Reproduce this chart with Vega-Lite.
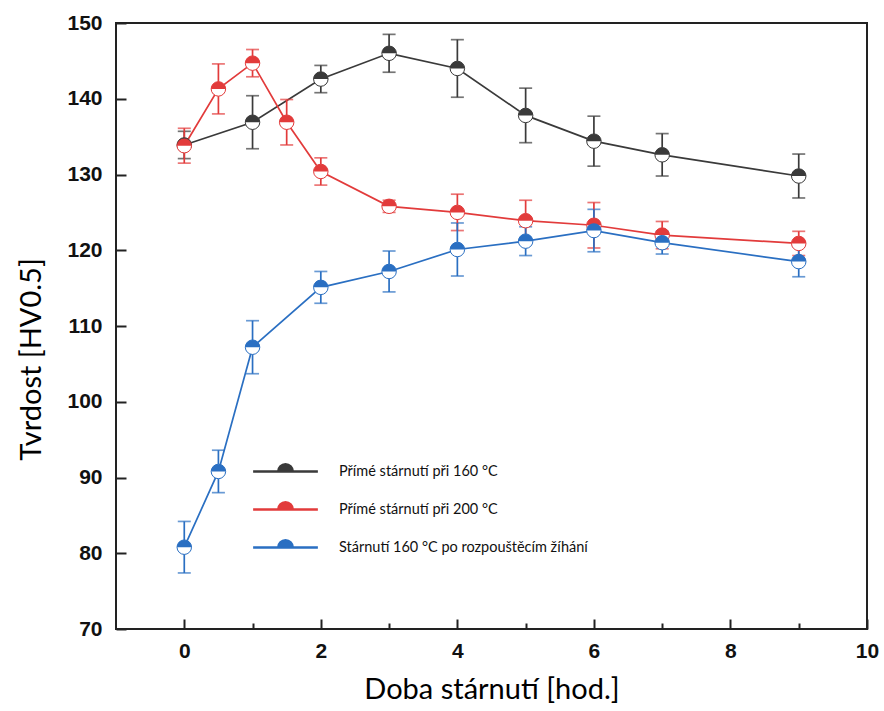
{
  "$schema": "https://vega.github.io/schema/vega-lite/v6.json",
  "width": 751,
  "height": 606,
  "autosize": {"type": "none"},
  "padding": {"left": 116, "top": 23, "right": 17, "bottom": 82},
  "background": "white",
  "config": {
    "view": {"stroke": "#222222", "strokeWidth": 2},
    "axis": {
      "domain": false,
      "grid": false,
      "labelFont": "Liberation Sans",
      "labelFontWeight": "bold",
      "labelFontSize": 21,
      "labelColor": "#111111",
      "tickColor": "#222222",
      "tickWidth": 2,
      "titleFont": "Lato",
      "titleFontSize": 29,
      "titleFontWeight": "normal",
      "titleColor": "#000000"
    }
  },
  "data": {
    "values": [
      {"s": "Přímé stárnutí při 160 °C", "t": 0, "h": 133.9, "e": 1.8},
      {"s": "Přímé stárnutí při 160 °C", "t": 1, "h": 136.9, "e": 3.5},
      {"s": "Přímé stárnutí při 160 °C", "t": 2, "h": 142.6, "e": 1.8},
      {"s": "Přímé stárnutí při 160 °C", "t": 3, "h": 146.0, "e": 2.5},
      {"s": "Přímé stárnutí při 160 °C", "t": 4, "h": 144.0, "e": 3.8},
      {"s": "Přímé stárnutí při 160 °C", "t": 5, "h": 137.8, "e": 3.6},
      {"s": "Přímé stárnutí při 160 °C", "t": 6, "h": 134.4, "e": 3.3},
      {"s": "Přímé stárnutí při 160 °C", "t": 7, "h": 132.6, "e": 2.8},
      {"s": "Přímé stárnutí při 160 °C", "t": 9, "h": 129.8, "e": 2.9},
      {"s": "Přímé stárnutí při 200 °C", "t": 0, "h": 133.8, "e": 2.3},
      {"s": "Přímé stárnutí při 200 °C", "t": 0.5, "h": 141.3, "e": 3.3},
      {"s": "Přímé stárnutí při 200 °C", "t": 1, "h": 144.7, "e": 1.8},
      {"s": "Přímé stárnutí při 200 °C", "t": 1.5, "h": 136.9, "e": 3.0},
      {"s": "Přímé stárnutí při 200 °C", "t": 2, "h": 130.4, "e": 1.8},
      {"s": "Přímé stárnutí při 200 °C", "t": 3, "h": 125.8, "e": 0.8},
      {"s": "Přímé stárnutí při 200 °C", "t": 4, "h": 125.0, "e": 2.4},
      {"s": "Přímé stárnutí při 200 °C", "t": 5, "h": 123.9, "e": 2.7},
      {"s": "Přímé stárnutí při 200 °C", "t": 6, "h": 123.3, "e": 3.0},
      {"s": "Přímé stárnutí při 200 °C", "t": 7, "h": 122.0, "e": 1.8},
      {"s": "Přímé stárnutí při 200 °C", "t": 9, "h": 120.9, "e": 1.6},
      {"s": "Stárnutí 160 °C po rozpouštěcím žíhání", "t": 0, "h": 80.8, "e": 3.4},
      {"s": "Stárnutí 160 °C po rozpouštěcím žíhání", "t": 0.5, "h": 90.8, "e": 2.8},
      {"s": "Stárnutí 160 °C po rozpouštěcím žíhání", "t": 1, "h": 107.2, "e": 3.5},
      {"s": "Stárnutí 160 °C po rozpouštěcím žíhání", "t": 2, "h": 115.1, "e": 2.1},
      {"s": "Stárnutí 160 °C po rozpouštěcím žíhání", "t": 3, "h": 117.2, "e": 2.7},
      {"s": "Stárnutí 160 °C po rozpouštěcím žíhání", "t": 4, "h": 120.1, "e": 3.5},
      {"s": "Stárnutí 160 °C po rozpouštěcím žíhání", "t": 5, "h": 121.2, "e": 1.9},
      {"s": "Stárnutí 160 °C po rozpouštěcím žíhání", "t": 6, "h": 122.6, "e": 2.8},
      {"s": "Stárnutí 160 °C po rozpouštěcím žíhání", "t": 7, "h": 121.0, "e": 1.5},
      {"s": "Stárnutí 160 °C po rozpouštěcím žíhání", "t": 9, "h": 118.5, "e": 2.0}
    ]
  },
  "encoding": {
    "x": {
      "field": "t",
      "type": "quantitative",
      "scale": {"domain": [-1, 10], "nice": false, "zero": false},
      "axis": {
        "values": [0, 1, 2, 3, 4, 5, 6, 7, 8, 9, 10],
        "labelExpr": "datum.value % 2 === 0 ? datum.label : ''",
        "tickSize": {"condition": {"test": "datum.value % 2 === 0", "value": -10}, "value": -6},
        "labelPadding": 21,
        "labelFlush": false,
        "title": "Doba stárnutí [hod.]",
        "titlePadding": 14
      }
    },
    "color": {
      "field": "s",
      "type": "nominal",
      "scale": {
        "domain": ["Přímé stárnutí při 160 °C", "Přímé stárnutí při 200 °C", "Stárnutí 160 °C po rozpouštěcím žíhání"],
        "range": ["#3a3a3a", "#e23b3b", "#2a6fc2"]
      },
      "legend": {
        "orient": "none",
        "legendX": 160,
        "legendY": 439,
        "title": null,
        "symbolType": "M -4 0 L -0.9 0 M 0.9 0 L 4 0 M -0.9 0 A 0.9 0.9 0 0 1 0.9 0 Z",
        "symbolSize": 262,
        "symbolStrokeWidth": 2.5,
        "labelFont": "Lato",
        "labelFontSize": 14.5,
        "labelColor": "#111111",
        "labelLimit": 0,
        "labelOffset": 44,
        "rowPadding": 19,
        "encode": {
          "symbols": {
            "update": {
              "fill": {"scale": "color", "field": "value"},
              "stroke": {"scale": "color", "field": "value"},
              "opacity": {"value": 1},
              "fillOpacity": {"value": 1}
            }
          }
        }
      }
    }
  },
  "layer": [
    {
      "mark": {"type": "line", "strokeWidth": 1.7},
      "encoding": {
        "y": {
          "field": "h",
          "type": "quantitative",
          "scale": {"domain": [70, 150], "nice": false, "zero": false},
          "axis": {
            "values": [70, 75, 80, 85, 90, 95, 100, 105, 110, 115, 120, 125, 130, 135, 140, 145, 150],
            "labelExpr": "datum.value % 10 === 0 ? datum.label : ''",
            "tickSize": {"condition": {"test": "datum.value % 10 === 0", "value": -10}, "value": -6},
            "labelPadding": 24,
            "title": "Tvrdost [HV0.5]",
            "titlePadding": 20,
            "titleY": 336
          }
        }
      }
    },
    {
      "mark": {"type": "errorbar", "thickness": 1.7, "ticks": {"size": 13, "thickness": 1.7}},
      "encoding": {
        "y": {"field": "h", "type": "quantitative", "title": "Tvrdost [HV0.5]"},
        "yError": {"field": "e"}
      }
    },
    {
      "mark": {"type": "point", "shape": "circle", "filled": false, "fill": "white", "fillOpacity": 1, "opacity": 1, "strokeWidth": 1, "size": 210},
      "encoding": {
        "y": {"field": "h", "type": "quantitative"}
      }
    },
    {
      "mark": {"type": "point", "shape": "M -1 0 A 1 1 0 0 1 1 0 Z", "filled": true, "opacity": 1, "size": 210},
      "encoding": {
        "y": {"field": "h", "type": "quantitative"}
      }
    }
  ]
}
